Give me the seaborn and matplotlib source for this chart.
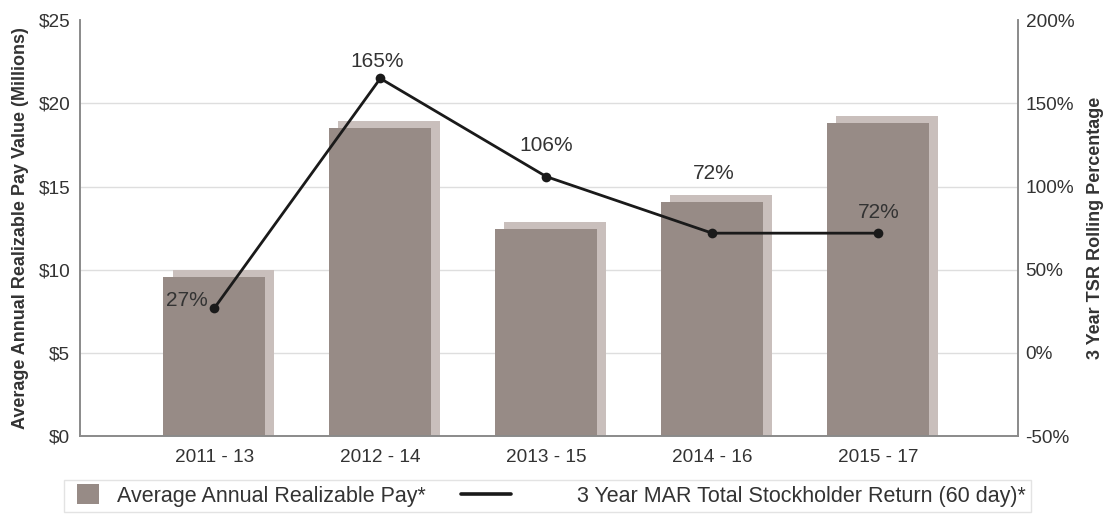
import numpy as np
import pandas as pd
import matplotlib.pyplot as plt
import seaborn as sns
from matplotlib.patches import Patch, Rectangle
from matplotlib.lines import Line2D
from matplotlib.legend_handler import HandlerBase

periods = ["2011 - 13", "2012 - 14", "2013 - 15", "2014 - 16", "2015 - 17"]
pay = [9.55, 18.5, 12.45, 14.05, 18.8]
tsr = [27, 165, 106, 72, 72]
tsr_labels = ["27%", "165%", "106%", "72%", "72%"]
pay_ticks = [0, 5, 10, 15, 20, 25]
tsr_ticks = [-50, 0, 50, 100, 150, 200]

BAR = "#978b86"
SHADE = "#c9bfbc"
TXT = "#333333"


class SquareHandler(HandlerBase):
	# small square sitting a bit to the right inside the handle box
	def create_artists(self, legend, orig_handle, xdescent, ydescent, width, height, fontsize, trans):
		w, h = 15.8, 14.4
		r = Rectangle((-xdescent + 5.5, -ydescent + height / 2 - h / 2), w, h,
					  facecolor=orig_handle.get_facecolor(), edgecolor='none', transform=trans)
		return [r]


class ShiftedLineHandler(HandlerBase):
	# line drawn well to the left of the text, like the original
	def create_artists(self, legend, orig_handle, xdescent, ydescent, width, height, fontsize, trans):
		y = -ydescent + height / 2
		l = Line2D([-xdescent - 49, -xdescent - 13], [y, y], color=orig_handle.get_color(),
				   lw=orig_handle.get_linewidth(), transform=trans)
		return [l]


def main():
	sns.set_theme(style="white")
	plt.rcParams['font.family'] = ['Liberation Sans', 'DejaVu Sans']

	df = pd.DataFrame({'period': periods, 'pay': pay, 'tsr': tsr})
	pos = np.arange(len(periods))

	fig, ax = plt.subplots(figsize=(11.06, 5.18), dpi=100)
	fig.subplots_adjust(left=0.0723, right=0.920, top=0.961, bottom=0.158)

	for y in pay_ticks[1:-1]:
		ax.axhline(y, color="#dedede", lw=1, zorder=0)

	# back face of the fake 3d bars
	ax.bar(pos + 0.055, df['pay'] + 0.42, width=0.614, color=SHADE, lw=0, zorder=1)
	sns.barplot(data=df, x='period', y='pay', color=BAR, width=0.614,
				saturation=1, linewidth=0, ax=ax, zorder=2)

	ax.set_xlim(-0.81, 4.84)
	ax.set_ylim(0, 25)
	ax.set_yticks(pay_ticks)
	ax.set_yticklabels(["$%d" % v for v in pay_ticks])
	ax.set_xlabel("")
	ax.set_ylabel("Average Annual Realizable Pay Value (Millions)", fontsize=13,
				  fontweight='bold', color=TXT, labelpad=7)
	ax.tick_params(axis='y', length=0, pad=7, labelsize=13.7, labelcolor=TXT)
	ax.tick_params(axis='x', length=0, pad=9, labelsize=13.7, labelcolor=TXT)

	ax2 = ax.twinx()
	sns.lineplot(x=pos, y=df['tsr'], color="#1a1a1a", lw=2, marker='o',
				 markersize=7, markeredgewidth=0, ax=ax2, zorder=5)
	ax2.set_ylim(-50, 200)
	ax2.set_yticks(tsr_ticks)
	ax2.set_yticklabels(["%d%%" % v for v in tsr_ticks])
	ax2.set_ylabel("3 Year TSR Rolling Percentage", fontsize=13, fontweight='bold',
				   color=TXT, labelpad=9)
	ax2.tick_params(axis='y', length=0, pad=5.8, labelsize=13.7, labelcolor=TXT)

	offsets = [(-7, 8), (-3, 17), (0, 31), (2, 60), (1, 21)]
	for i, lab in enumerate(tsr_labels):
		dx, dy = offsets[i]
		ax2.annotate(lab, (pos[i], tsr[i]), xytext=(dx, dy), textcoords='offset pixels',
					 ha='right' if i == 0 else 'center', va='center',
					 fontsize=15, color=TXT)

	for a in (ax, ax2):
		for s in a.spines.values():
			s.set_color("#8a8a8a")
			s.set_linewidth(1.2)
		a.spines['top'].set_visible(False)

	handles = [Patch(color=BAR),
			   Line2D([0], [0], color="#1a1a1a", lw=2.6)]
	names = ["Average Annual Realizable Pay*",
			 "3 Year MAR Total Stockholder Return (60 day)*"]
	fig.legend(handles, names, loc='center', ncol=2, mode='expand',
			   bbox_to_anchor=(0.0579, 0.0077, 0.8743, 0.0695), fontsize=15.5,
			   frameon=True, edgecolor="#dcdcdc", fancybox=False,
			   handlelength=1.6, handletextpad=0.61, labelcolor=TXT,
			   borderpad=0.25, borderaxespad=0,
			   handler_map={Patch: SquareHandler(), Line2D: ShiftedLineHandler()})

	fig.savefig("out.png", dpi=100)


if __name__ == "__main__":
	main()
